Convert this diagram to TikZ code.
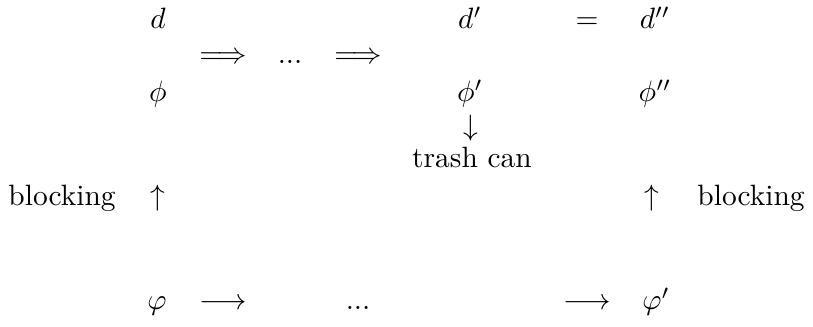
\documentclass[tikz,border=0pt]{standalone}
\usepackage{amsmath, amssymb}
\usepackage{tikz}
\usetikzlibrary{positioning}

\begin{document}
\begin{tikzpicture}[x=0.34pt, y=-0.34pt,
  cell/.style={anchor=base, inner sep=0pt}]
  \useasboundingbox (0,0) rectangle (813,327);
  % top rows
  \node[cell] (d0) at (158,29) {$d$};
  \node[cell] (d1) at (470,29) {$d'$};
  \node[cell] (eq) at (587,29) {$=$};
  \node[cell] (d2) at (655,29) {$d''$};
  \node[cell] (imp1) at (223,64) {$\Longrightarrow$};
  \node[cell] (dots1) at (290,64) {$...$};
  \node[cell] (imp2) at (358,64) {$\Longrightarrow$};
  \node[cell] (phi0) at (158,102) {$\phi$};
  \node[cell] (phi1) at (470,102) {$\phi'$};
  \node[cell] (phi2) at (655,102) {$\phi''$};
  % trash can
  \node[cell] (down) at (471,136) {$\downarrow$};
  \node[cell] (trash) at (472,168) {trash can};
  % blocking
  \node[cell] (blk0) at (62,206) {blocking};
  \node[cell] (up0) at (158,206) {$\uparrow$};
  \node[cell] (up1) at (652,206) {$\uparrow$};
  \node[cell] (blk1) at (751,206) {blocking};
  % bottom row
  \node[cell] (vphi0) at (157,310) {$\varphi$};
  \node[cell] (to1) at (223,310) {$\longrightarrow$};
  \node[cell] (dots2) at (358,310) {$...$};
  \node[cell] (to2) at (587,310) {$\longrightarrow$};
  \node[cell] (vphi1) at (656,310) {$\varphi'$};
\end{tikzpicture}
\end{document}
